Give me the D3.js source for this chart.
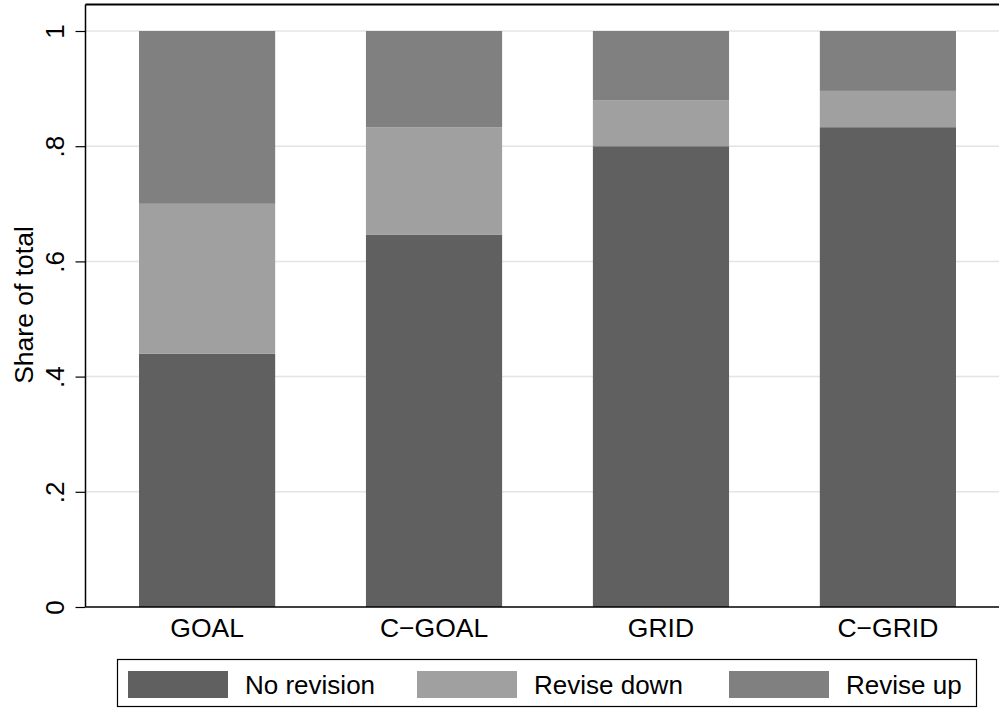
<!DOCTYPE html>
<html><head><meta charset="utf-8">
<script src="https://cdn.jsdelivr.net/npm/d3@7"></script>
<style>body{margin:0;background:#fff;}svg{display:block;font-family:"Liberation Sans",Arial,sans-serif;}</style>
</head><body>
<svg id="chart" width="999" height="708"></svg>
<script>
const categories = ["GOAL", "C\u2212GOAL", "GRID", "C\u2212GRID"];
const seriesNames = ["No revision", "Revise down", "Revise up"];
const noRevision = [0.44, 0.646, 0.80, 0.833];
const reviseDown = [0.26, 0.187, 0.08, 0.063];
const reviseUp = [0.30, 0.167, 0.12, 0.104];
const yTicks = [0, 0.2, 0.4, 0.6, 0.8, 1];
const yTickLabels = ["0", ".2", ".4", ".6", ".8", "1"];
const colors = ["#606060", "#a0a0a0", "#808080"];

const svg = d3.select("#chart");
const W = 999, H = 708;
svg.append("rect").attr("width", W).attr("height", H).attr("fill", "#fff");

const plotL = 85.5, plotR = 1010, plotT = 4.5, plotB = 607;
const x = d3.scaleBand().domain(categories).range([85, 1010]).paddingInner(0.4).paddingOuter(0.238);
const y = d3.scaleLinear().domain([0, 1]).range([607, 31]);

// gridlines
svg.append("g").selectAll("line").data(yTicks.slice(1)).join("line")
  .attr("x1", plotL).attr("x2", plotR)
  .attr("y1", d => y(d)).attr("y2", d => y(d))
  .attr("stroke", "#e4e4e4").attr("stroke-width", 1.5);

// stacked data
const rows = categories.map((c, i) => ({cat: c, "No revision": noRevision[i], "Revise down": reviseDown[i], "Revise up": reviseUp[i]}));
const stack = d3.stack().keys(seriesNames)(rows);

svg.append("g").selectAll("g").data(stack).join("g")
  .attr("fill", (d, i) => colors[i])
  .selectAll("rect").data(d => d).join("rect")
  .attr("x", d => x(d.data.cat))
  .attr("width", x.bandwidth())
  .attr("y", d => y(d[1]))
  .attr("height", d => y(d[0]) - y(d[1]));

// plot border (top / left), bottom axis
svg.append("line").attr("x1", plotL).attr("x2", plotR).attr("y1", plotT).attr("y2", plotT)
  .attr("stroke", "#000").attr("stroke-width", 2);
svg.append("line").attr("x1", plotL).attr("x2", plotR).attr("y1", plotB).attr("y2", plotB)
  .attr("stroke", "#000").attr("stroke-width", 1.5);

// y axis
const yAxis = d3.axisLeft(y).tickValues(yTicks).tickFormat((d, i) => yTickLabels[i]).tickSize(10).tickPadding(0);
const ya = svg.append("g").attr("transform", `translate(${plotL},0)`).call(yAxis);
ya.select(".domain").attr("stroke", "#000").attr("stroke-width", 1.5).attr("d", `M0,${plotT}V${plotB}`);
ya.selectAll(".tick line").attr("stroke", "#000").attr("stroke-width", 1.2);
ya.selectAll(".tick text")
  .attr("x", null).attr("dy", null)
  .attr("text-anchor", "middle")
  .attr("transform", "translate(-22,0) rotate(-90)")
  .attr("fill", "#000").style("font-size", "26px").style("font-family", '"Liberation Sans",Arial,sans-serif');

// x axis labels
const xAxis = d3.axisBottom(x).tickSize(0).tickPadding(10);
const xa = svg.append("g").attr("transform", `translate(0,${plotB})`).call(xAxis);
xa.select(".domain").remove();
xa.selectAll(".tick text").attr("dy", null).attr("y", 30)
  .attr("fill", "#000").style("font-size", "26.5px").style("font-family", '"Liberation Sans",Arial,sans-serif');

// y title
svg.append("text").attr("transform", "translate(33,305) rotate(-90)")
  .attr("text-anchor", "middle").attr("font-size", 26.5).attr("fill", "#000")
  .text("Share of total");

// legend
const lg = svg.append("g");
lg.append("rect").attr("x", 117.5).attr("y", 659.5).attr("width", 859).attr("height", 47)
  .attr("fill", "#fff").attr("stroke", "#000").attr("stroke-width", 1.2);
const legX = [128, 417, 729];
const items = lg.selectAll("g.item").data(seriesNames).join("g").attr("class", "item")
  .attr("transform", (d, i) => `translate(${legX[i]},671)`);
items.append("rect").attr("width", 100).attr("height", 27).attr("fill", (d, i) => colors[i]);
items.append("text").attr("x", 117).attr("y", 22.5).attr("font-size", 26).attr("fill", "#000").text(d => d);
</script>
</body></html>
